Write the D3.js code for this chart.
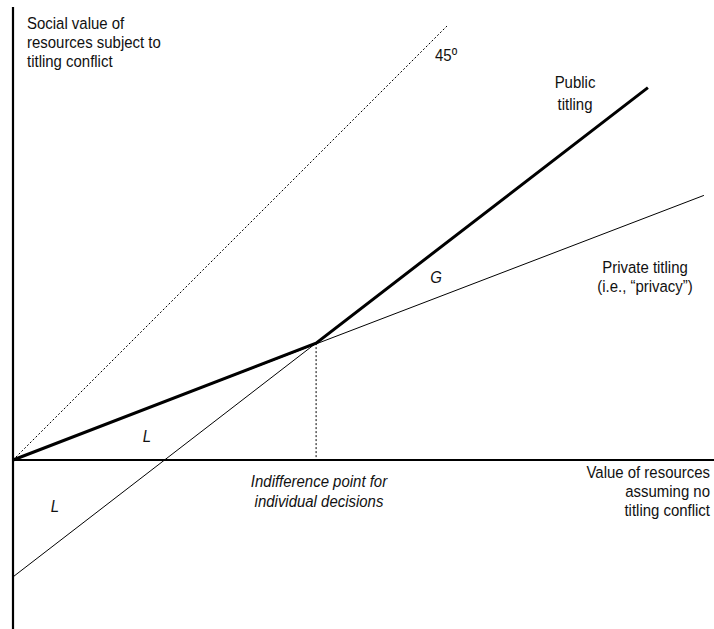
<!DOCTYPE html>
<html>
<head>
<meta charset="utf-8">
<script src="https://cdn.jsdelivr.net/npm/d3@7"></script>
<style>
  body { margin: 0; background: #fff; }
  text { font-family: "Liberation Sans Narrow", "Arial Narrow", "Liberation Sans", Arial, sans-serif; font-size: 17px; fill: #111; }
</style>
</head>
<body>
<div id="chart"></div>
<script>
// lines of the diagram, in abstract value units
var publicX = [0, 43.3, 90.7];
var publicY = [0, 16.7, 53.2];
var privateX = [0, 98.7];
var privateY = [0, 37.8];
var extendX = [0, 43.3];   // thin continuation of public titling below the kink
var extendY = [-16.7, 16.7];
var diagX = [0, 62];
var diagY = [0, 62];
var kink = [43.3, 16.7];

var width = 714, height = 629;
var narrow = 0.88;   // no narrow face installed, squeeze the regular one

var x = d3.scaleLinear().domain([0, 100]).range([13, 713]);
var y = d3.scaleLinear().domain([0, 60]).range([460, 40]);

var svg = d3.select("#chart").append("svg")
  .attr("width", width)
  .attr("height", height);

var line = d3.line()
  .x(function(d) { return x(d[0]); })
  .y(function(d) { return y(d[1]); });

var zip = function(xs, ys) {
  return xs.map(function(v, i) { return [v, ys[i]]; });
};

// axes
svg.append("line")
  .attr("x1", x(0)).attr("x2", x(0))
  .attr("y1", 7).attr("y2", height)
  .attr("stroke", "#000").attr("stroke-width", 2.2);

svg.append("line")
  .attr("x1", x(0)).attr("x2", width)
  .attr("y1", y(0)).attr("y2", y(0))
  .attr("stroke", "#000").attr("stroke-width", 2.2);

// 45 degree reference
svg.append("path")
  .attr("d", line(zip(diagX, diagY)))
  .attr("fill", "none")
  .attr("stroke", "#000")
  .attr("stroke-width", 1)
  .attr("stroke-dasharray", "2,2");

// indifference point drop line
svg.append("line")
  .attr("x1", x(kink[0])).attr("x2", x(kink[0]))
  .attr("y1", y(kink[1])).attr("y2", y(0))
  .attr("stroke", "#000")
  .attr("stroke-width", 1)
  .attr("stroke-dasharray", "2,2");

// private titling
svg.append("path")
  .attr("d", line(zip(privateX, privateY)))
  .attr("fill", "none")
  .attr("stroke", "#000")
  .attr("stroke-width", 1);

// public titling extended below the kink
svg.append("path")
  .attr("d", line(zip(extendX, extendY)))
  .attr("fill", "none")
  .attr("stroke", "#000")
  .attr("stroke-width", 1);

// public titling (kinked, bold)
svg.append("path")
  .attr("d", line(zip(publicX, publicY)))
  .attr("fill", "none")
  .attr("stroke", "#000")
  .attr("stroke-width", 3)
  .attr("stroke-linejoin", "miter");

// labels
var label = function(lines, px, py, anchor, dy, italic) {
  var t = svg.append("g")
    .attr("transform", "translate(" + px + "," + py + ") scale(" + narrow + ",1)")
    .append("text")
    .attr("text-anchor", anchor)
    .style("font-style", italic ? "italic" : "normal");
  lines.forEach(function(s, i) {
    t.append("tspan").attr("x", 0).attr("y", i * dy).text(s);
  });
};

label(["Social value of", "resources subject to", "titling conflict"], 27, 29, "start", 19);
label(["45º"], 435, 61, "start", 0);
label(["Public", "titling"], 575, 88, "middle", 22);
label(["Private titling", "(i.e., \u201cprivacy\u201d)"], 645, 273, "middle", 19);
label(["G"], 436, 283, "middle", 0, true);
label(["L"], 147, 442, "middle", 0, true);
label(["L"], 55, 512, "middle", 0, true);
label(["Indifference point for", "individual decisions"], 319, 487, "middle", 20, true);
label(["Value of resources", "assuming no", "titling conflict"], 710, 478, "end", 19);
</script>
</body>
</html>
